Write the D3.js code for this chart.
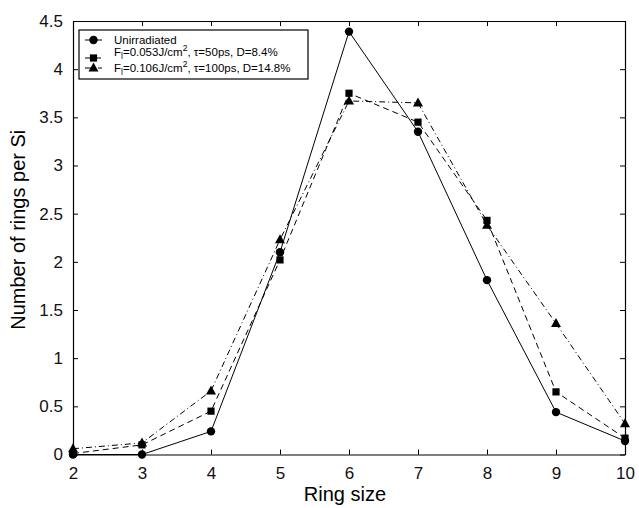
<!DOCTYPE html>
<html>
<head>
<meta charset="utf-8">
<script src="https://cdn.jsdelivr.net/npm/d3@7"></script>
<style>
  body { margin: 0; background: #fff; }
  svg { font-family: "Liberation Sans", Arial, sans-serif; }
</style>
</head>
<body>
<svg width="639" height="508"></svg>
<script>
// ring sizes and counts per Si
const ringSizes = [2, 3, 4, 5, 6, 7, 8, 9, 10];
const unirradiated = [0.0, 0.0, 0.24, 2.10, 4.39, 3.35, 1.81, 0.44, 0.14];
const lowFluence = [0.01, 0.10, 0.45, 2.02, 3.75, 3.45, 2.43, 0.65, 0.17];
const highFluence = [0.06, 0.12, 0.66, 2.23, 3.67, 3.65, 2.38, 1.36, 0.32];
const yTicks = [0, 0.5, 1, 1.5, 2, 2.5, 3, 3.5, 4, 4.5];

const svg = d3.select("svg");
const plotLeft = 73, plotRight = 625, plotTop = 21, plotBottom = 454.5;

const x = d3.scaleLinear().domain([2, 10]).range([plotLeft, plotRight]);
const y = d3.scaleLinear().domain([0, 4.5]).range([plotBottom, plotTop]);

// axes, ticks pointing inward on all four sides
svg.append("g").attr("transform", `translate(0,${plotBottom})`)
  .call(d3.axisBottom(x).tickValues(ringSizes).tickSizeInner(-5).tickSizeOuter(0).tickPadding(12).tickFormat(d3.format("d")));
svg.append("g").attr("transform", `translate(0,${plotTop})`)
  .call(d3.axisTop(x).tickValues(ringSizes).tickSizeInner(-5).tickSizeOuter(0).tickFormat(""));
svg.append("g").attr("transform", `translate(${plotLeft},0)`)
  .call(d3.axisLeft(y).tickValues(yTicks).tickSizeInner(-5).tickSizeOuter(0).tickPadding(10).tickFormat(d3.format("")));
svg.append("g").attr("transform", `translate(${plotRight},0)`)
  .call(d3.axisRight(y).tickValues(yTicks).tickSizeInner(-5).tickSizeOuter(0).tickFormat(""));

svg.selectAll(".domain").attr("stroke", "#000").attr("stroke-width", 1.2);
svg.selectAll(".tick line").attr("stroke", "#000");
svg.selectAll(".tick text").attr("font-size", 17).attr("fill", "#111")
  .attr("font-family", "Liberation Sans, Arial, sans-serif");

// axis labels
svg.append("text").attr("x", (plotLeft + plotRight) / 2 - 4).attr("y", 501)
  .attr("text-anchor", "middle").attr("font-size", 20).text("Ring size");
svg.append("text").attr("transform", `translate(25,${(plotTop + plotBottom) / 2 - 8}) rotate(-90)`)
  .attr("text-anchor", "middle").attr("font-size", 20).text("Number of rings per Si");

const series = [
  { values: unirradiated, dash: null, marker: "circle" },
  { values: lowFluence, dash: "6,4", marker: "square" },
  { values: highFluence, dash: "6,3,1,3", marker: "triangle" }
];

const line = d3.line().x((d, i) => x(ringSizes[i])).y(d => y(d));

function drawMarker(g, type, cx, cy) {
  if (type === "circle") {
    g.append("circle").attr("cx", cx).attr("cy", cy).attr("r", 4.2).attr("fill", "#000");
  } else if (type === "square") {
    g.append("rect").attr("x", cx - 3.6).attr("y", cy - 3.6).attr("width", 7.2).attr("height", 7.2).attr("fill", "#000");
  } else {
    g.append("path").attr("d", `M${cx},${cy - 5.5}L${cx + 5},${cy + 3.5}L${cx - 5},${cy + 3.5}Z`).attr("fill", "#000");
  }
}

const plot = svg.append("g");
series.forEach(s => {
  plot.append("path").datum(s.values).attr("d", line)
    .attr("fill", "none").attr("stroke", "#000").attr("stroke-width", 1)
    .attr("stroke-dasharray", s.dash);
  s.values.forEach((v, i) => drawMarker(plot, s.marker, x(ringSizes[i]), y(v)));
});

// legend
const lg = svg.append("g");
lg.append("rect").attr("x", 79).attr("y", 30).attr("width", 229).attr("height", 49)
  .attr("fill", "#fff").attr("stroke", "#000").attr("stroke-width", 1.2);

const legendRows = [
  { y: 40, ty: 44 },
  { y: 58, ty: 55.5 },
  { y: 68, ty: 71.5 }
];
series.forEach((s, i) => {
  const r = legendRows[i];
  lg.append("line").attr("x1", 85).attr("x2", 102).attr("y1", r.y).attr("y2", r.y)
    .attr("stroke", "#000").attr("stroke-width", 1).attr("stroke-dasharray", s.dash);
  drawMarker(lg, s.marker, 93.5, r.y);
});

lg.append("text").attr("x", 114).attr("y", legendRows[0].ty).attr("font-size", 11.5).text("Unirradiated");

function fluenceLabel(ty, flu, tau, dose) {
  const t = lg.append("text").attr("x", 114).attr("y", ty).attr("font-size", 11.5);
  t.append("tspan").text("F");
  t.append("tspan").attr("dy", 3).attr("font-size", 8.5).text("l");
  t.append("tspan").attr("dy", -3).text(`=${flu}J/cm`);
  t.append("tspan").attr("dy", -5).attr("font-size", 8.5).text("2");
  t.append("tspan").attr("dy", 5).text(`, \u03c4=${tau}ps, D=${dose}%`);
}
fluenceLabel(legendRows[1].ty, "0.053", "50", "8.4");
fluenceLabel(legendRows[2].ty, "0.106", "100", "14.8");
</script>
</body>
</html>
